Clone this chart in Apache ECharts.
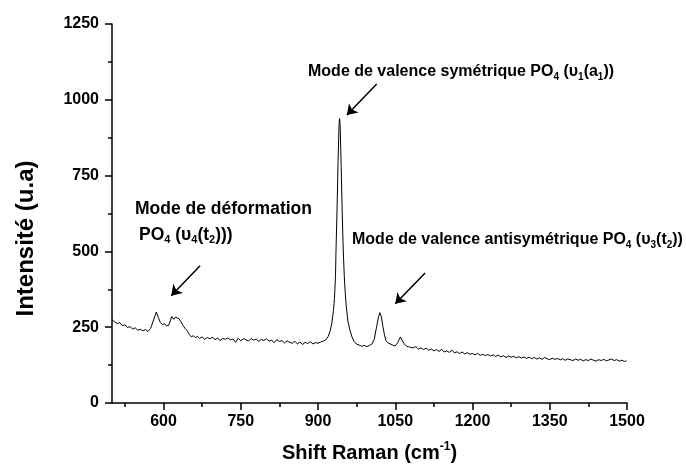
<!DOCTYPE html>
<html>
<head>
<meta charset="utf-8">
<script src="https://cdn.jsdelivr.net/npm/echarts@6/dist/echarts.min.js"></script>
<style>
  html, body { margin: 0; padding: 0; background: #fff; }
  #chart { width: 686px; height: 473px; }
</style>
</head>
<body>
<div id="chart"></div>
<script>
// Raman spectrum (shift in cm-1, intensity in u.a)
const shift = [
  500, 505, 510, 515, 520, 525, 530, 535, 540, 545, 550, 555, 560, 565, 570, 575, 578, 582, 586, 590,
  594, 598, 602, 606, 610, 613, 616, 618, 620, 623, 626, 630, 634, 638, 642, 646, 650, 654, 658, 662,
  666, 670, 675, 680, 685, 690, 695, 700, 705, 710, 715, 720, 725, 730, 735, 740, 745, 750, 755, 760,
  765, 770, 775, 780, 785, 790, 795, 800, 805, 810, 815, 820, 825, 830, 835, 840, 845, 850, 855, 860,
  865, 870, 875, 880, 885, 890, 895, 900, 905, 910, 915, 920, 924, 927, 930, 932, 934, 935, 937, 939,
  941, 942, 943, 945, 947, 949, 951, 953, 955, 958, 962, 966, 970, 975, 980, 985, 990, 995, 1000, 1005,
  1009, 1014, 1017, 1020, 1021, 1023, 1026, 1029, 1032, 1036, 1040, 1045, 1050, 1055, 1060, 1063, 1067, 1072, 1076, 1080,
  1085, 1090, 1095, 1100, 1105, 1110, 1115, 1120, 1125, 1130, 1135, 1140, 1145, 1150, 1155, 1160, 1165, 1170, 1175, 1180,
  1185, 1190, 1195, 1200, 1205, 1210, 1215, 1220, 1225, 1230, 1235, 1240, 1245, 1250, 1255, 1260, 1265, 1270, 1275, 1280,
  1285, 1290, 1295, 1300, 1305, 1310, 1315, 1320, 1325, 1330, 1335, 1340, 1345, 1350, 1355, 1360, 1365, 1370, 1375, 1380,
  1385, 1390, 1395, 1400, 1405, 1410, 1415, 1420, 1425, 1430, 1435, 1440, 1445, 1450, 1455, 1460, 1465, 1470, 1475, 1480,
  1485, 1490, 1495, 1499
]
const intensity = [
  275, 268, 262, 265, 255, 258, 249, 252, 244, 248, 240, 243, 238, 242, 236, 246, 252, 280, 300, 282,
  265, 258, 262, 254, 256, 270, 285, 290, 276, 283, 280, 278, 268, 255, 246, 238, 226, 218, 222, 215,
  220, 213, 218, 210, 216, 212, 217, 209, 214, 206, 213, 210, 215, 208, 211, 200, 214, 205, 212, 209,
  204, 213, 207, 211, 203, 210, 206, 212, 204, 207, 199, 209, 203, 206, 198, 205, 200, 197, 204, 195,
  201, 193, 200, 196, 202, 195, 199, 197, 201, 204, 208, 220, 240, 265, 305, 345, 420, 505, 640, 800,
  925, 938, 915, 780, 630, 505, 420, 360, 318, 270, 240, 218, 203, 194, 191, 187, 190, 186, 190, 195,
  209, 253, 280, 298, 299, 285, 253, 225, 205, 198, 195, 191, 188, 200, 218, 208, 196, 187, 186, 183,
  182, 186, 178, 182, 176, 181, 174, 178, 172, 176, 170, 177, 168, 172, 167, 174, 165, 169, 163, 168,
  162, 166, 161, 163, 159, 164, 157, 161, 156, 160, 155, 159, 153, 158, 152, 156, 150, 155, 151, 154,
  149, 153, 148, 152, 147, 151, 146, 150, 145, 149, 144, 150, 146, 143, 148, 144, 147, 142, 146, 141,
  145, 143, 140, 145, 141, 144, 139, 143, 140, 145, 141, 138, 143, 140, 144, 139, 142, 145, 140, 143,
  138, 141, 137, 139
]

const xMajor = [600, 750, 900, 1050, 1200, 1350, 1500]
const xMinor = [525, 675, 825, 975, 1125, 1275, 1425]
const yMajor = [0, 250, 500, 750, 1000, 1250]
const yMinor = [125, 375, 625, 875, 1125]

// arrows: [from, to] in chart units
const arrows = [
  [[671, 453], [615, 354]],
  [[1014, 1052], [956, 950]],
  [[1108, 429], [1050, 327]]
]

let spectrum = []
for (let i = 0; i < shift.length; i++) {
  spectrum.push([shift[i], intensity[i]])
}

const font = 'Liberation Sans, Arial, sans-serif'
const richText = function (size, sub) {
  return {
    m: {fontSize: size, fontWeight: 'bold', fontFamily: font, color: '#000', lineHeight: 20},
    s: {fontSize: sub, fontWeight: 'bold', fontFamily: font, color: '#000', lineHeight: sub, verticalAlign: 'bottom'}
  }
}
function note(text, left, top, size, sub) {
  return {text: text, left: left, top: top, padding: 0, textStyle: {rich: richText(size, sub)}}
}
const plain = function (v) { return String(v) }
const tickStyle = {color: '#000', width: 1.5}
const labelStyle = {color: '#000', fontSize: 16, fontWeight: 'bold', fontFamily: font, formatter: plain}

option = {
  animation: false,
  backgroundColor: '#fff',
  title: [
    note('{m|Mode de déformation}', 135, 199, 17.5, 11),
    note('{m|PO}{s|4}{m| (υ}{s|4}{m|(t}{s|2}{m|)))}', 139, 225, 17.5, 11),
    note('{m|Mode de valence symétrique PO}{s|4}{m| (υ}{s|1}{m|(a}{s|1}{m|))}', 308, 62, 16, 10),
    note('{m|Mode de valence antisymétrique PO}{s|4}{m| (υ}{s|3}{m|(t}{s|2}{m|))}', 352, 230, 16, 10)
  ],
  grid: {left: 112, right: 59, top: 24, bottom: 70},
  xAxis: [
    {
      type: 'value',
      min: 500,
      max: 1500,
      name: '{n|Shift Raman (cm}{p|-1}{n|)}',
      nameLocation: 'middle',
      nameGap: 38,
      nameTextStyle: {
        rich: {
          n: {fontSize: 20, fontWeight: 'bold', fontFamily: font, color: '#000', lineHeight: 24},
          p: {fontSize: 12, fontWeight: 'bold', fontFamily: font, color: '#000', lineHeight: 12, verticalAlign: 'top'}
        }
      },
      axisLine: {lineStyle: tickStyle},
      axisTick: {customValues: xMajor, length: 7, lineStyle: tickStyle},
      axisLabel: Object.assign({customValues: xMajor, margin: 11}, labelStyle),
      splitLine: {show: false}
    },
    {
      type: 'value',
      min: 500,
      max: 1500,
      position: 'bottom',
      axisLine: {show: false},
      axisTick: {show: true, customValues: xMinor, length: 4, lineStyle: tickStyle},
      axisLabel: {show: false},
      splitLine: {show: false}
    }
  ],
  yAxis: [
    {
      type: 'value',
      min: 0,
      max: 1250,
      name: 'Intensité (u.a)',
      nameLocation: 'middle',
      nameGap: 74,
      nameTextStyle: {
        fontSize: 24,
        fontWeight: 'bold',
        fontFamily: font,
        color: '#000',
        padding: [0, 50, 0, 0]
      },
      axisLine: {show: true, lineStyle: tickStyle},
      axisTick: {show: true, customValues: yMajor, length: 7, lineStyle: tickStyle},
      axisLabel: Object.assign({customValues: yMajor, margin: 13}, labelStyle),
      splitLine: {show: false}
    },
    {
      type: 'value',
      min: 0,
      max: 1250,
      position: 'left',
      axisLine: {show: false},
      axisTick: {show: true, customValues: yMinor, length: 4, lineStyle: tickStyle},
      axisLabel: {show: false},
      splitLine: {show: false}
    }
  ],
  series: [
    {
      name: 'spectre',
      type: 'line',
      xAxisIndex: 0,
      yAxisIndex: 0,
      data: spectrum,
      showSymbol: false,
      symbol: 'none',
      lineStyle: {color: '#000', width: 1},
      markLine: {
        silent: true,
        symbol: ['none', 'arrow'],
        symbolSize: 10,
        label: {show: false},
        lineStyle: {color: '#000', width: 1.5, type: 'solid'},
        data: arrows.map(function (a) {
          return [{coord: a[0]}, {coord: a[1]}]
        })
      }
    }
  ]
}

const myChart = echarts.init(document.getElementById('chart'))
myChart.setOption(option)
</script>
</body>
</html>
